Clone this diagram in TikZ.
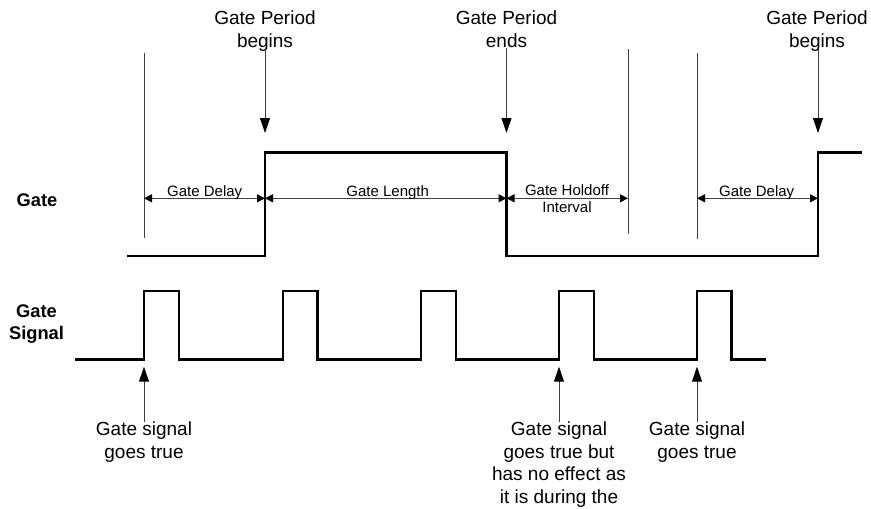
\documentclass[tikz,border=0pt]{standalone}
\usepackage{fontspec}
\setmainfont{Liberation Sans}
\usetikzlibrary{arrows.meta}
\begin{document}
\begin{tikzpicture}[x=1pt,y=-1pt,
  wave/.style={line width=2.4pt, line join=miter},
  thinln/.style={black!75, line width=1pt},
  ptr/.style={thinln, -{Triangle[length=15pt,width=10pt,color=black]}},
  dim/.style={thinln, {Triangle[length=8pt,width=8pt,color=black]}-{Triangle[length=8pt,width=8pt,color=black]}},
  big/.style={font=\fontsize{19}{22.7}\selectfont, align=center, inner sep=0pt, anchor=north},
  small/.style={font=\fontsize{15}{17}\selectfont, align=center, inner sep=0pt},
  lbl/.style={font=\bfseries\fontsize{18.3}{22.3}\selectfont, align=center, inner sep=0pt}]
\useasboundingbox (0,0) rectangle (871,509);

% top labels
\node[big] (gpb1) at (265,11) {Gate Period\\begins};
\node[big] (gpe)  at (506.5,11) {Gate Period\\ends};
\node[big] (gpb2) at (817,11) {Gate Period\\begins};
\coordinate (a1) at (265,133);
\coordinate (a2) at (506.5,133);
\coordinate (a3) at (818,133);
\draw[ptr] ([yshift=3pt]gpb1.south) -- (a1);
\draw[ptr] (gpe.south) -- (a2);
\draw[ptr] ([yshift=3pt]gpb2.south -| a3) -- (a3);

% row labels
\node[lbl, anchor=base] (lg) at (37,206.7) {Gate};
\node[lbl, anchor=north] (ls) at (36.5,304.5) {Gate\\Signal};

% gate waveform
\draw[wave] (127,256) -- (265,256) -- (265,152.5) -- (506.5,152.5) -- (506.5,256)
  -- (818,256) -- (818,152.5) -- (862,152.5);

% extension lines
\coordinate (e1t) at (144,53);  \coordinate (e1b) at (144,238);
\coordinate (e2t) at (628,49);  \coordinate (e2b) at (628,234);
\coordinate (e3t) at (697,53);  \coordinate (e3b) at (697,239);
\draw[thinln] (e1t) -- (e1b);
\draw[thinln] (e2t) -- (e2b);
\draw[thinln] (e3t) -- (e3b);

% dimensions
\coordinate (d0) at (144,198.3);
\coordinate (d1) at (265,198.3);
\coordinate (d2) at (506.5,198.3);
\coordinate (d3) at (628,198.3);
\coordinate (d4) at (697,198.3);
\coordinate (d5) at (818,198.3);
\draw[dim] (d0) -- (d1);
\draw[dim] (d1) -- (d2);
\draw[dim] (d2) -- (d3);
\draw[dim] (d4) -- (d5);
\node[small, anchor=base] (gd1) at (204.7,196.5) {Gate Delay};
\node[small, anchor=base] (gl)  at (387.7,196.5) {Gate Length};
\node[small, anchor=north] (gh) at (567,184) {Gate Holdoff\\Interval};
\node[small, anchor=base] (gd2) at (756.7,196.5) {Gate Delay};

% gate signal waveform
\draw[wave] (75,359.3) -- (144,359.3) -- (144,290.7) -- (179,290.7) -- (179,359.3)
  -- (282.7,359.3) -- (282.7,290.7) -- (317.3,290.7) -- (317.3,359.3)
  -- (421,359.3) -- (421,290.7) -- (455.7,290.7) -- (455.7,359.3)
  -- (559,359.3) -- (559,290.7) -- (593.7,290.7) -- (593.7,359.3)
  -- (697,359.3) -- (697,290.7) -- (731.3,290.7) -- (731.3,359.3)
  -- (766,359.3);

% bottom labels
\node[big, font=\fontsize{19}{22.5}\selectfont] (gs1) at (144,422) {Gate signal\\goes true};
\node[big, font=\fontsize{19}{22.5}\selectfont] (gs2) at (559,422) {Gate signal\\goes true but\\has no effect as\\it is during the};
\node[big, font=\fontsize{19}{22.5}\selectfont] (gs3) at (697,422) {Gate signal\\goes true};
\coordinate (u1) at (144,366.7);
\coordinate (u2) at (559,366.7);
\coordinate (u3) at (697,366.7);
\draw[ptr] (gs1.north) -- (u1);
\draw[ptr] (gs2.north) -- (u2);
\draw[ptr] (gs3.north) -- (u3);
\end{tikzpicture}
\end{document}
